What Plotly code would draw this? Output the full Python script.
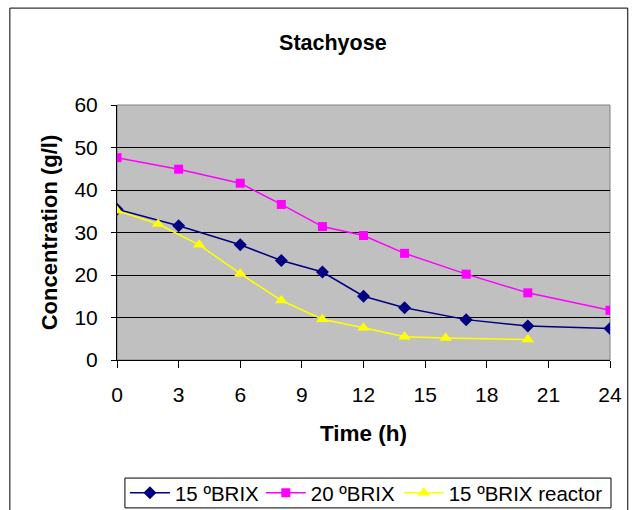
import plotly.graph_objects as go

time_15 = [0, 3, 6, 8, 10, 12, 14, 17, 20, 24]
conc_15 = [35.5, 31.6, 27.1, 23.4, 20.7, 15.0, 12.3, 9.5, 8.0, 7.4]
time_20 = [0, 3, 6, 8, 10, 12, 14, 17, 20, 24]
conc_20 = [47.6, 44.9, 41.6, 36.6, 31.4, 29.3, 25.1, 20.2, 15.8, 11.7]
time_r = [0, 2, 4, 6, 8, 10, 12, 14, 16, 20]
conc_r = [35.1, 32.0, 27.1, 20.3, 14.0, 9.6, 7.6, 5.5, 5.2, 4.8]
names = ["15 ºBRIX", "20 ºBRIX", "15 ºBRIX reactor"]
x_ticks = [0, 3, 6, 9, 12, 15, 18, 21, 24]
y_ticks = [0, 10, 20, 30, 40, 50, 60]

FONT = "Liberation Sans, Arial, sans-serif"

fig = go.Figure()
fig.add_trace(go.Scatter(x=time_15, y=conc_15, name=names[0], mode="lines+markers",
                         legend="legend",
                         line=dict(color="#000080", width=1.5),
                         marker=dict(symbol="diamond", size=10, color="#000080")))
fig.add_trace(go.Scatter(x=time_20, y=conc_20, name=names[1], mode="lines+markers",
                         legend="legend2",
                         line=dict(color="#FF00FF", width=1.5),
                         marker=dict(symbol="square", size=9, color="#FF00FF")))
fig.add_trace(go.Scatter(x=time_r, y=conc_r, name=names[2], mode="lines+markers",
                         legend="legend3",
                         line=dict(color="#FFFF00", width=1.5),
                         marker=dict(symbol="triangle-up", size=11, color="#FFFF00")))

def leg(xpix):
    return dict(orientation="h", x=(xpix - 117) / 497, xanchor="left",
                y=1 - 493 / 510, yref="container", yanchor="middle",
                borderwidth=0, bgcolor="rgba(0,0,0,0)",
                font=dict(family=FONT, size=20.5), itemwidth=40)

fig.update_layout(
    width=634, height=510,
    margin=dict(l=117, r=20, t=105, b=150),
    paper_bgcolor="white", plot_bgcolor="#C0C0C0",
    font=dict(family=FONT, size=21, color="black"),
    title=dict(text="<b>Stachyose</b>", x=0.525, xref="container", xanchor="center",
               y=1 - 42 / 510, yref="container", yanchor="middle",
               font=dict(family=FONT, size=21.5, color="black")),
    xaxis=dict(range=[0, 24], tickvals=x_ticks, showgrid=False, zeroline=False,
               showline=True, linecolor="black", linewidth=1,
               ticks="outside", ticklen=7, tickcolor="black", ticklabelstandoff=9,
               title=dict(text="<b>Time (h)</b>", standoff=20,
                          font=dict(family=FONT, size=22.5))),
    yaxis=dict(range=[0, 60], tickvals=y_ticks, showgrid=True, gridcolor="black", gridwidth=1,
               zeroline=False, showline=True, linecolor="black", linewidth=1,
               ticks="outside", ticklen=5, tickcolor="black", ticklabelstandoff=9,
               title=dict(text="<b>Concentration (g/l)</b>", standoff=10,
                          font=dict(family=FONT, size=22))),
    legend=leg(125),
    legend2=leg(262),
    legend3=leg(401),
    showlegend=True,
    shapes=[
        dict(type="rect", xref="paper", yref="paper", x0=-0.2173, x1=1.036, y0=-0.7, y1=1.38,
             line=dict(color="black", width=1), fillcolor="rgba(0,0,0,0)", layer="below"),
        dict(type="rect", xref="paper", yref="paper", x0=0, x1=1, y0=0, y1=1,
             line=dict(color="#808080", width=1), fillcolor="rgba(0,0,0,0)", layer="below"),
        dict(type="rect", xref="paper", yref="paper", x0=0.0161, x1=1.002, y0=-0.580, y1=-0.463,
             line=dict(color="black", width=1), fillcolor="white", layer="below"),
    ],
)

fig.write_html("out.html", config={"displayModeBar": False},
               post_script="document.body.style.margin='0';document.body.style.overflow='hidden';")
